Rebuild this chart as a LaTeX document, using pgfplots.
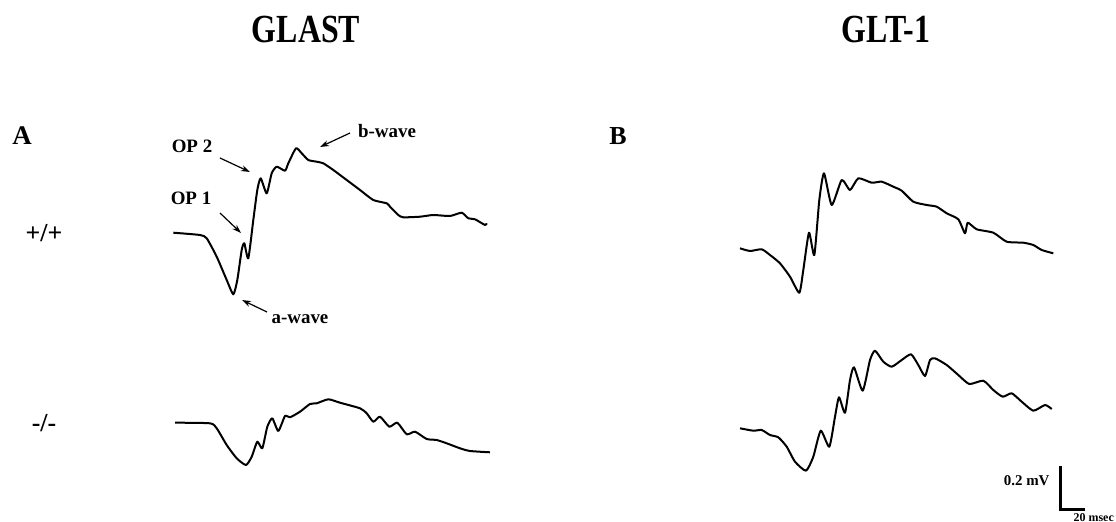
\documentclass[border=0pt]{standalone}
\usepackage{fontspec}
\setmainfont{Liberation Serif}
\usepackage{pgfplots}
\pgfplotsset{compat=1.18}
\usetikzlibrary{arrows.meta}
\begin{document}
\begin{tikzpicture}
\begin{axis}[
  scale only axis, width=1116bp, height=522bp,
  xmin=0, xmax=1116, ymin=0, ymax=522, y dir=reverse,
  hide axis, clip=false,
  every axis plot post/.append style={black, line width=2bp, line join=round, mark=none, smooth, tension=0.35},
]
% A, +/+
\addplot coordinates {
(173.3,232.7) (200,235) (206.7,238.3) (216.7,256.7) (226.7,280) (233.3,294.3)
(237.3,280) (241.7,250) (244.3,243.3) (248.3,258.3) (253.3,220) (257.3,190)
(260.7,178.3) (266.7,193.3) (271.7,173.3) (276.7,166.7) (285,170.7) (288.3,163.3)
(296,148.3) (301.7,153.3) (308.3,160) (316.7,161.7) (323.3,163.3) (333.3,170)
(346.7,180) (360,190) (373.3,200) (386.7,203.3) (390,206.7) (398.3,215)
(403.3,217.3) (420,216.7) (433.3,215) (450,216) (461.7,212.7) (468.3,218.3)
(475,219.3) (485,225) (486.7,223.3)
};
% A, -/-
\addplot coordinates {
(175,422.7) (210,423.3) (216.7,428.3) (226.7,445) (236.7,458.3) (246,465)
(251.7,456.7) (257.3,441.7) (262.3,448.3) (267.3,426.7) (272.3,418.3) (278.3,431)
(285,416) (290,417.3) (300,411.7) (310,404) (316.7,403.3) (328.3,399.3)
(340,402.7) (360,408.3) (366.7,413.3) (373.3,421.7) (380,416.7) (389.3,426.7)
(397.3,422.7) (406.7,434.3) (415,431.7) (426.7,439) (436.7,440) (446.7,443.3)
(460,448.3) (470,451) (490,452.3)
};
% B, +/+
\addplot coordinates {
(740,248.3) (750,251) (761.7,249.3) (770,255) (780,263.3) (790,276.7)
(799.3,292.7) (803.3,270) (809,232.7) (814.3,255) (819.3,200) (824,173.3)
(831.7,205) (841.7,180) (850,190) (858.3,178.3) (871.7,182.7) (881.7,181.7)
(893.3,186.7) (901.7,190.7) (913.3,201.7) (926.7,205) (936.7,206.7) (946.7,213.3)
(958.3,219.3) (965,233.3) (967.7,222.7) (976.7,229.3) (993.3,232.7) (1006.7,241.7)
(1023.3,242.7) (1033.3,245) (1041.7,250) (1053.3,253.3)
};
% B, -/-
\addplot coordinates {
(740,428.3) (753.3,430.7) (761.7,430) (770,435) (778.3,437.3) (786.7,446.7)
(795,461.7) (806,470.7) (813.3,456.7) (820.7,430.7) (829.3,446.7) (835,416.7)
(839,397.3) (845,412.7) (850,380) (854,367.3) (862.7,390.7) (870,360)
(875,350.7) (883.3,361.7) (891.7,366.7) (901.7,360) (911,354.3) (918.3,365)
(925,376) (930,360) (935,358.3) (946.7,365) (958.3,375) (969.3,384)
(983.3,380.7) (993.3,390) (1002.7,396.7) (1011.7,393.3) (1021.7,401.7) (1033.3,410.7)
(1045,405) (1051.7,409)
};

% titles and panel labels
\node[xscale=0.8, font=\bfseries\fontsize{40}{40}\selectfont] at (axis cs:306,30) {GLAST};
\node[xscale=0.8, font=\bfseries\fontsize{40}{40}\selectfont] at (axis cs:886,30) {GLT-1};
\node[font=\bfseries\fontsize{27}{27}\selectfont] at (axis cs:22,136) {A};
\node[font=\bfseries\fontsize{26}{26}\selectfont] at (axis cs:618,136) {B};
\node[font=\bfseries\fontsize{26}{26}\selectfont] at (axis cs:44,233) {+/+};
\node[font=\bfseries\fontsize{26}{26}\selectfont] at (axis cs:44,423) {-/-};

% wave annotations
\begin{scope}[font=\bfseries\fontsize{19}{19}\selectfont]
\node at (axis cs:192,146) {OP 2};
\node at (axis cs:191,198) {OP 1};
\node at (axis cs:300,319) {a-wave};
\node at (axis cs:387,131) {b-wave};
\end{scope}
\begin{scope}[line width=1.2bp, -{Stealth[length=9bp,width=6bp]}]
\draw (axis cs:220,158) -- (axis cs:250,172);
\draw (axis cs:220,213) -- (axis cs:241,233);
\draw (axis cs:267,312) -- (axis cs:242,300);
\draw (axis cs:350,133) -- (axis cs:320,147);
\end{scope}

% scale bar
\draw[line width=3bp] (axis cs:1060.7,466) -- (axis cs:1060.7,509.5) -- (axis cs:1085,509.5);
\node[anchor=east, font=\bfseries\fontsize{15}{15}\selectfont] at (axis cs:1053,481) {0.2 mV};
\node[anchor=east, inner sep=1bp, font=\bfseries\fontsize{12}{12}\selectfont] at (axis cs:1115,517.5) {20 msec};
\coordinate (TL) at (axis cs:0,0);
\coordinate (BR) at (axis cs:1116,522);
\end{axis}
\pgfresetboundingbox
\path (TL) rectangle (BR);
\end{tikzpicture}
\end{document}
